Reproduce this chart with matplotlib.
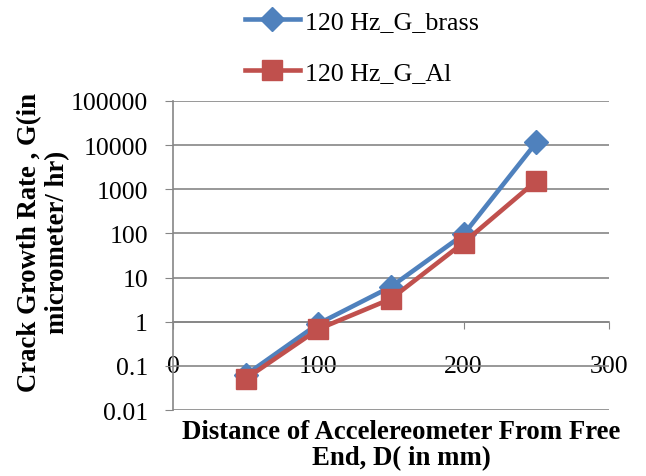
import matplotlib.pyplot as plt
from matplotlib.ticker import FixedLocator, NullLocator

distance = [50, 100, 150, 200, 250]
g_brass = [0.062, 0.9, 6.2, 95, 11500]
g_al = [0.051, 0.68, 3.3, 62, 1550]

y_ticks = [0.01, 0.1, 1, 10, 100, 1000, 10000, 100000]
y_labels = ["0.01", "0.1", "1", "10", "100", "1000", "10000", "100000"]
x_ticks = [0, 100, 200, 300]

plt.rcParams["font.family"] = ["Liberation Serif", "DejaVu Serif"]

fig = plt.figure(figsize=(6.46, 4.77), dpi=100)
ax = fig.add_axes([173 / 646, 1 - 411 / 477, (609 - 173) / 646, (411 - 102) / 477])

ax.plot(distance, g_brass, color="#4F81BD", lw=3.3, marker="D", ms=12.5,
        label="120 Hz_G_brass", zorder=3)
ax.plot(distance, g_al, color="#C0504D", lw=3.3, marker="s", ms=14,
        label="120 Hz_G_Al", zorder=4)

ax.set_yscale("log")
ax.set_ylim(0.01, 100000)
ax.set_xlim(0, 300)
ax.yaxis.set_major_locator(FixedLocator(y_ticks))
ax.yaxis.set_minor_locator(NullLocator())
ax.set_yticklabels(y_labels)
ax.set_xticks(x_ticks)
ax.set_xticklabels([str(v) for v in x_ticks])

ax.grid(axis="y", color="#868686", lw=1.2)
ax.set_axisbelow(True)
for s in ["top", "right"]:
    ax.spines[s].set_visible(False)
ax.spines["left"].set_color("#868686")
ax.spines["left"].set_linewidth(1.2)
ax.spines["bottom"].set_position(("data", 1))
ax.spines["bottom"].set_color("#868686")
ax.spines["bottom"].set_linewidth(1.2)

ax.tick_params(axis="y", length=6, color="#868686", labelsize=18.5, pad=12)
ax.tick_params(axis="x", length=5, color="#868686", labelsize=18.5, pad=19)

ax.set_ylabel("Crack Growth Rate , G(in\nmicrometer/ hr)", fontsize=19.3,
              fontweight="bold")
ax.yaxis.set_label_coords(-0.235, 0.545)
ax.set_xlabel("Distance of Accelereometer From Free\nEnd, D( in mm)",
              fontsize=19.3, fontweight="bold", linespacing=1.05)
ax.xaxis.set_label_coords(0.523, -0.03)

fig.legend(loc="upper left", bbox_to_anchor=(245 / 646, 1 - 11 / 477),
           frameon=False, fontsize=18.7, handlelength=2.1, handletextpad=0.2,
           labelspacing=1.05, borderpad=0, borderaxespad=0)

fig.savefig("out.png", dpi=100)
